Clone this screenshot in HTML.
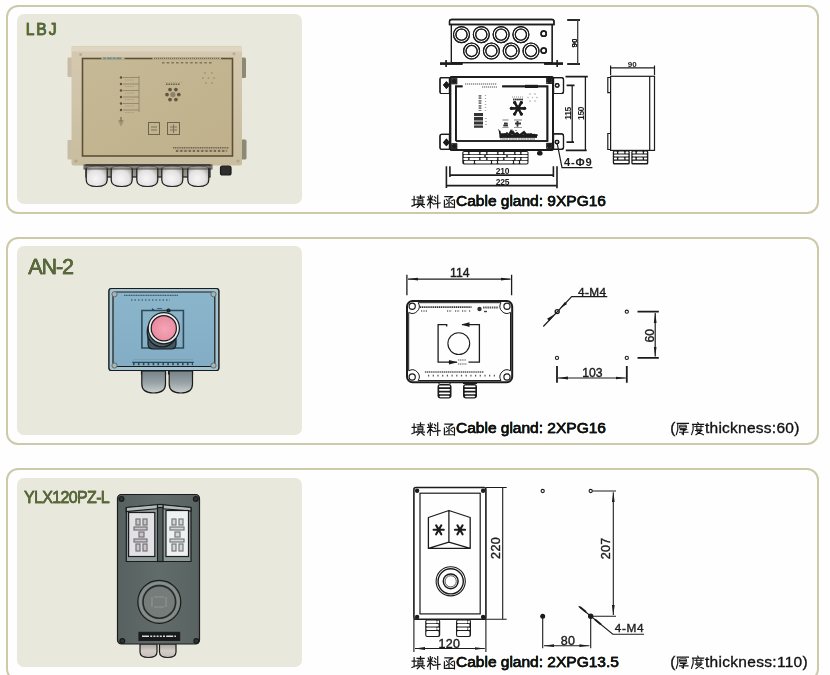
<!DOCTYPE html>
<html><head><meta charset="utf-8">
<style>
*{margin:0;padding:0;box-sizing:border-box}
html,body{width:830px;height:675px;overflow:hidden;background:#fefefe;position:relative;font-family:"Liberation Sans",sans-serif}
.box{position:absolute;left:6px;width:813px;height:209px;border:2px solid #cdcaa9;border-radius:12px;background:#fefefe}
.panel{position:absolute;left:17px;width:285px;height:189px;background:#e8e8dd;border-radius:7px}
.title{position:absolute;color:#58683a;font-size:16px;white-space:nowrap;-webkit-text-stroke:0.45px #58683a}
.txt{position:absolute;color:#111;font-size:15.5px;white-space:nowrap;-webkit-text-stroke:0.35px #111}
svg{position:absolute;left:0;top:0}
</style></head><body><div id="wrap" style="position:absolute;left:0;top:0;width:830px;height:675px;overflow:hidden">
<div class="box" style="top:5px"></div>
<div class="box" style="top:237px;height:208px"></div>
<div class="box" style="top:468px;height:212.5px"></div>
<div class="panel" style="top:14px;height:190px"></div>
<div class="panel" style="top:246px;height:189px"></div>
<div class="panel" style="top:478px;height:189px"></div>
<svg width="830" height="675" viewBox="0 0 830 675" style="position:absolute;left:0;top:0">
<defs>
<filter id="soft" x="-5%" y="-5%" width="110%" height="110%"><feGaussianBlur stdDeviation="0.6"/></filter>
<linearGradient id="lbjBody" x1="0" y1="0" x2="0" y2="1"><stop offset="0" stop-color="#d5c9b1"/><stop offset="1" stop-color="#c9bd9f"/></linearGradient>
<linearGradient id="lbjPanel" x1="0" y1="0" x2="1" y2="1"><stop offset="0" stop-color="#c6b995"/><stop offset="1" stop-color="#c0b08c"/></linearGradient>
<radialGradient id="gland" cx="0.45" cy="0.62" r="0.62"><stop offset="0" stop-color="#f7f6f6"/><stop offset="0.65" stop-color="#e4e1e2"/><stop offset="1" stop-color="#aeaaa3"/></radialGradient><linearGradient id="glandGap" x1="0" y1="0" x2="0" y2="1"><stop offset="0" stop-color="#77736b"/><stop offset="1" stop-color="#a19d95"/></linearGradient>
<linearGradient id="an2Body" x1="0" y1="0" x2="0" y2="1"><stop offset="0" stop-color="#8bb5cb"/><stop offset="1" stop-color="#82adc4"/></linearGradient>
<radialGradient id="pink" cx="0.55" cy="0.55" r="0.6"><stop offset="0" stop-color="#f4a5b8"/><stop offset="1" stop-color="#e8869c"/></radialGradient>
<linearGradient id="an2Gland" x1="0" y1="0" x2="0" y2="1"><stop offset="0" stop-color="#76838a"/><stop offset="0.5" stop-color="#95a0a3"/><stop offset="1" stop-color="#c9cfcd"/></linearGradient>
<linearGradient id="ylxBody" x1="0" y1="0" x2="1" y2="0"><stop offset="0" stop-color="#566160"/><stop offset="0.5" stop-color="#606b6a"/><stop offset="1" stop-color="#586362"/></linearGradient>
<radialGradient id="ylxBtn" cx="0.5" cy="0.5" r="0.5"><stop offset="0" stop-color="#7f8684"/><stop offset="0.75" stop-color="#6d7472"/><stop offset="0.88" stop-color="#8a918f"/><stop offset="1" stop-color="#6a7270"/></radialGradient>
<linearGradient id="ylxGland" x1="0" y1="0" x2="0" y2="1"><stop offset="0" stop-color="#a9a4a0"/><stop offset="0.5" stop-color="#d3ccc7"/><stop offset="1" stop-color="#c4bdb8"/></linearGradient>
</defs>
<g filter="url(#soft)">
<!-- ===== LBJ photo ===== -->
<rect x="67.5" y="57.5" width="5" height="19.5" rx="1" fill="#c8bca6"/>
<rect x="67.5" y="140" width="5" height="19.5" rx="1" fill="#c8bca6"/>
<rect x="241" y="57.5" width="5" height="20.5" rx="1.5" fill="#8c8a74"/>
<rect x="241" y="139.5" width="5.5" height="20" rx="1.5" fill="#8c8a74"/>
<rect x="71.5" y="46" width="170.5" height="119.5" rx="2" fill="url(#lbjBody)"/>
<rect x="71.5" y="46.5" width="170.5" height="5" fill="#e3dac8" opacity="0.7"/>
<rect x="82.5" y="58.5" width="150" height="97.5" fill="url(#lbjPanel)" stroke="#5c5036" stroke-width="1.6"/>
<path d="M101.5,58.5 H124.5 M152.5,58.5 H221" stroke="#c8bb98" stroke-width="2.2"/>
<path d="M103,58.3 H121.5" stroke="#6f8d8c" stroke-width="1.8" stroke-dasharray="3 0.8 5 0.8 3 0.8 6"/>
<path d="M154,58.3 H220" stroke="#7a6f58" stroke-width="1.3" stroke-dasharray="1.3 0.7"/>
<path d="M162,62.8 H212" stroke="#7f745c" stroke-width="1.5" stroke-dasharray="2.5 2.2"/>
<circle cx="80.6" cy="54.5" r="1.5" fill="#b6ab95"/><circle cx="234" cy="53.7" r="1.5" fill="#b6ab95"/>
<circle cx="76" cy="161" r="1.6" fill="#b0a590"/><circle cx="238" cy="161" r="1.6" fill="#b0a590"/>
<!-- LED col -->
<g fill="#5a4f3a"><circle cx="121" cy="77.5" r="1.2"/><circle cx="121" cy="84" r="1.2"/><circle cx="121" cy="90.5" r="1.2"/><circle cx="121" cy="97" r="1.2"/><circle cx="121" cy="103.5" r="1.2"/><circle cx="121" cy="110" r="1.2"/></g>
<path d="M123,77.5 H139 M123,84 H139 M123,90.5 H139 M123,97 H139 M123,103.5 H139 M123,110 H139 M139,76 V112" stroke="#8a7f66" stroke-width="0.8"/>
<path d="M125,80 H134 M125,86.5 H134 M125,93 H134 M125,99.5 H134 M125,106 H134 M125,112.5 H134" stroke="#a89c7f" stroke-width="1.2" stroke-dasharray="1 0.6"/>
<path d="M121,117 V121 M118.5,121 H123.5 M119.3,123 H122.7 M120.3,125 H121.7" stroke="#786d55" stroke-width="1.2"/>
<!-- asterisk -->
<g fill="#5e5443"><circle cx="167" cy="94.6" r="1.85"/><circle cx="178.8" cy="94.6" r="1.85"/><circle cx="170" cy="89.6" r="1.85"/><circle cx="175.9" cy="89.6" r="1.85"/><circle cx="170" cy="99.6" r="1.85"/><circle cx="175.9" cy="99.6" r="1.85"/></g>
<circle cx="172.9" cy="94.6" r="2.6" fill="#8d836b"/>
<path d="M166,84.3 H180" stroke="#6c624d" stroke-width="1.5" stroke-dasharray="1.6 0.8"/>
<path d="M165,82.5 H182" stroke="#a59a7e" stroke-width="0.8" stroke-dasharray="1 1"/>
<g fill="#a3987d"><circle cx="205" cy="73" r="1"/><circle cx="212" cy="73" r="1"/><circle cx="203" cy="78" r="1"/><circle cx="208.5" cy="78" r="1"/><circle cx="214" cy="78" r="1"/><circle cx="206" cy="83" r="1"/><circle cx="212" cy="83" r="1"/></g>
<!-- squares -->
<rect x="148.5" y="122.5" width="11" height="12" fill="none" stroke="#6d634d" stroke-width="1"/>
<path d="M151,127 H157 M151,130 H157" stroke="#7d735c" stroke-width="1.2"/>
<rect x="167.5" y="122.5" width="12" height="12" fill="none" stroke="#6d634d" stroke-width="1"/>
<path d="M170,127 H177 M170,130 H177 M173.5,124.5 V133" stroke="#7d735c" stroke-width="1.1"/>
<path d="M173,147.8 H229" stroke="#6f644d" stroke-width="1.4" stroke-dasharray="1.2 0.6"/>
<path d="M175,150.5 H228" stroke="#b4a888" stroke-width="3"/>
<path d="M176,151 H227" stroke="#5f5541" stroke-width="1.6" stroke-dasharray="2.2 2"/>
<!-- glands -->
<rect x="86" y="165" width="124" height="12" fill="url(#glandGap)"/>
<path d="M86.2,169 Q86.2,166 96.7,166 Q107.2,166 107.2,169 V180 Q107.2,186.5 96.7,186.5 Q86.2,186.5 86.2,180 Z" fill="url(#gland)"/><path d="M111.2,169 Q111.2,166 121.7,166 Q132.2,166 132.2,169 V180 Q132.2,186.5 121.7,186.5 Q111.2,186.5 111.2,180 Z" fill="url(#gland)"/><path d="M136.8,169 Q136.8,166 147.3,166 Q157.8,166 157.8,169 V180 Q157.8,186.5 147.3,186.5 Q136.8,186.5 136.8,180 Z" fill="url(#gland)"/><path d="M161.8,169 Q161.8,166 172.3,166 Q182.8,166 182.8,169 V180 Q182.8,186.5 172.3,186.5 Q161.8,186.5 161.8,180 Z" fill="url(#gland)"/><path d="M187.8,169 Q187.8,166 198.3,166 Q208.8,166 208.8,169 V180 Q208.8,186.5 198.3,186.5 Q187.8,186.5 187.8,180 Z" fill="url(#gland)"/>
<rect x="84" y="165" width="128" height="4" fill="#8b877f" opacity="0.55"/>
<rect x="220.5" y="166" width="10.5" height="9" rx="2" fill="#2f2d29"/>

<!-- ===== AN-2 photo ===== -->
<rect x="141.5" y="366" width="24" height="8" fill="#5f6b70"/>
<rect x="168.5" y="366" width="24" height="8" fill="#5f6b70"/>
<path d="M141.8,371 H165.5 V384 Q165.5,393 153.6,393 Q141.8,393 141.8,384 Z" fill="url(#an2Gland)"/>
<path d="M169.2,371 H192.5 V384 Q192.5,393 180.8,393 Q169.2,393 169.2,384 Z" fill="url(#an2Gland)"/>
<rect x="109" y="288.5" width="109.8" height="82" rx="2.5" fill="url(#an2Body)"/>
<rect x="109" y="288.5" width="109.8" height="82" rx="2.5" fill="#a3c3d1"/><rect x="113" y="292" width="101.8" height="74.5" rx="2" fill="url(#an2Body)"/>
<g fill="#a9b3b5" stroke="#5d6d72" stroke-width="1"><circle cx="114.5" cy="294.2" r="2.6"/><circle cx="213.5" cy="294.2" r="2.6"/><circle cx="114.5" cy="365.5" r="2.6"/><circle cx="213.5" cy="365.5" r="2.6"/></g>
<path d="M124,295.3 H178" stroke="#3d5d70" stroke-width="1.3" stroke-dasharray="1.2 0.5"/>
<path d="M131,300 H170" stroke="#4b6a7c" stroke-width="1.3" stroke-dasharray="1.5 2"/>
<path d="M141.9,310.5 V348 H183.4 V310.5 Z" fill="none" stroke="#2f4b5a" stroke-width="1.6"/>
<circle cx="168.5" cy="310.5" r="1.5" fill="#223a46"/><path d="M152,308.6 L154,310.5" stroke="#223a46" stroke-width="1.2"/><path d="M157,308.5 H162" stroke="#46657a" stroke-width="1"/>
<path d="M148,328 V344 Q148,349 153,349 H171 Q176,349 176,344 V328 Z" fill="#3f5663"/><circle cx="162" cy="332" r="14.8" fill="#4d6470"/>
<circle cx="163.8" cy="328.2" r="15.6" fill="#e9eef0"/>
<circle cx="163.8" cy="328.2" r="12.6" fill="url(#pink)"/>
<path d="M132.2,362.3 H193.8" stroke="#2e4a58" stroke-width="1.2"/>
<path d="M133,364 H193" stroke="#2e4a58" stroke-width="2.4" stroke-dasharray="1.6 3.3"/>
<path d="M133,359.5 H193" stroke="#7aa0b3" stroke-width="1"/>

<!-- ===== YLX photo ===== -->
<path d="M140,644 H157 V652 Q157,657.5 148.5,657.5 Q140,657.5 140,652 Z" fill="url(#ylxGland)"/>
<path d="M159.5,644 H176 V652 Q176,657.5 167.7,657.5 Q159.5,657.5 159.5,652 Z" fill="url(#ylxGland)"/>
<rect x="117.5" y="494.5" width="82" height="149.5" rx="4" fill="url(#ylxBody)"/>
<g fill="#2d3432"><circle cx="121.5" cy="498.9" r="2.4"/><circle cx="195.8" cy="498.9" r="2.4"/><circle cx="122.3" cy="641" r="2.4"/><circle cx="196.3" cy="641" r="2.4"/></g>
<path d="M126.3,507.5 L159.5,504.5 L191,507.5 V561.5 H126.3 Z" fill="#8e999a"/><path d="M126.3,507.5 L159.5,504.5 L191,507.5 V511 L159.5,508.5 L126.3,511.5 Z" fill="#b3bdbd"/>
<rect x="128.6" y="512.5" width="26.2" height="44" fill="#e2e1e6"/>
<rect x="166" y="510.5" width="22.5" height="46" fill="#edf1f1"/>
<rect x="157.5" y="506" width="5.5" height="55.5" fill="#515c5b"/><rect x="157.5" y="504.5" width="5.5" height="3" fill="#9aa5a5"/>
<g fill="#b9aeb4" opacity="0.55">
<rect x="136" y="519" width="4" height="6"/><rect x="143" y="519" width="4" height="6"/><rect x="134" y="527" width="13" height="3"/><rect x="139" y="532" width="5" height="5"/><rect x="134" y="539" width="13" height="3"/><rect x="136" y="544" width="4" height="7"/><rect x="143" y="544" width="4" height="7"/>
</g>
<g fill="#bfc2c2" opacity="0.55">
<rect x="172" y="519" width="4" height="6"/><rect x="179" y="519" width="4" height="6"/><rect x="170" y="527" width="14" height="3"/><rect x="175" y="532" width="5" height="5"/><rect x="170" y="539" width="14" height="3"/><rect x="172" y="544" width="4" height="7"/><rect x="179" y="544" width="4" height="7"/>
</g>
<circle cx="159.3" cy="601.9" r="21.5" fill="url(#ylxBtn)"/>
<circle cx="159.3" cy="601.9" r="16.3" fill="#757c7a" stroke="#262c2b" stroke-width="1.6"/>
<path d="M152,597 V607 M166,597 V607 M154,597 H164 M154,607 H164" stroke="#8e9593" stroke-width="1.2"/>
<rect x="139" y="632.4" width="40.6" height="8" fill="#161a19"/>
<path d="M142,636.3 H176" stroke="#d9dcda" stroke-width="1.6" stroke-dasharray="7 1.2 2 1.2 2 1.2 2 1.2 2 1.2 2 1.2"/>
</g>
</svg>
<div class="title" style="left:25.8px;top:20.6px;letter-spacing:1.9px;font-size:15.6px">LBJ</div>
<div class="title" style="left:28.3px;top:253.6px;font-size:21.6px;letter-spacing:-1.2px">AN-2</div>
<div class="title" style="left:24px;top:489px;letter-spacing:-0.65px">YLX120PZ-L</div>
<div class="txt" style="left:456px;top:192px">Cable gland: 9XPG16</div>
<div class="txt" style="left:456px;top:419.2px">Cable gland: 2XPG16</div>
<div class="txt" style="left:456px;top:652.6px">Cable gland: 2XPG13.5</div>
<svg width="830" height="675" viewBox="0 0 830 675" style="position:absolute;left:0;top:0">
<g fill="none" stroke="#1c1c1c" stroke-width="1.2" font-family="Liberation Sans">
<!-- ===== LBJ top view ===== -->
<path d="M449.5,24.5 V21.5 Q449.5,19.5 451.5,19.5 H552 Q554,19.5 554,21.5 V24.5 Z" stroke-width="1.3"/>
<path d="M451.4,24.5 V62.6 M552.2,24.5 V62.6"/>
<path d="M451.4,62.6 H552.2"/>
<path d="M440,63.6 H462.5 M544.2,63.6 H563" stroke-width="2.2"/>
<path d="M446.1,60 V67 M557.2,60 V67"/>
<g stroke-width="1.1">
<circle cx="461.5" cy="34.6" r="8"/><circle cx="461.5" cy="34.6" r="5.6"/>
<circle cx="481.3" cy="34.6" r="8"/><circle cx="481.3" cy="34.6" r="5.6"/>
<circle cx="501.1" cy="34.6" r="8"/><circle cx="501.1" cy="34.6" r="5.6"/>
<circle cx="520.9" cy="34.6" r="8"/><circle cx="520.9" cy="34.6" r="5.6"/>
<circle cx="471.6" cy="51" r="8"/><circle cx="471.6" cy="51" r="5.6"/>
<circle cx="491.4" cy="51" r="8"/><circle cx="491.4" cy="51" r="5.6"/>
<circle cx="511.2" cy="51" r="8"/><circle cx="511.2" cy="51" r="5.6"/>
<circle cx="531" cy="51" r="8"/><circle cx="531" cy="51" r="5.6"/>
</g>
<circle cx="543.7" cy="33.7" r="2.6" stroke-width="1.5"/>
<circle cx="543.7" cy="50.6" r="2.6" stroke-width="1.5"/>
<path d="M567.3,19.9 H580 M567.3,63.9 H580" stroke-width="1.5"/><path d="M577.6,19.9 V63.9" stroke="#444"/>
<text transform="translate(576.6,43) rotate(-90)" font-size="8" font-weight="bold" fill="#1c1c1c" stroke="none" text-anchor="middle">90</text>

<!-- ===== LBJ front view ===== -->
<path d="M441.5,77.6 H449.5 V93.5 H441.5 Q440,93.5 440,92 V79.1 Q440,77.6 441.5,77.6 Z"/>
<path d="M441.5,134.4 H449.5 V149.3 H441.5 Q440,149.3 440,147.8 V135.9 Q440,134.4 441.5,134.4 Z"/>
<path d="M553.5,77.6 H561.5 Q563.5,77.6 563.5,79.6 V91.5 Q563.5,93.5 561.5,93.5 H553.5 Z"/>
<path d="M553.5,133.9 H561.5 Q563.5,133.9 563.5,135.9 V147.3 Q563.5,149.3 561.5,149.3 H553.5 Z"/>
<path d="M446.4,82.1 l2.6,3 -2.6,3 -2.6,-3 Z M446.4,139.4 l2.6,3 -2.6,3 -2.6,-3 Z" fill="#1c1c1c"/>
<circle cx="557.2" cy="85.4" r="1.8"/><circle cx="557" cy="142.1" r="1.8"/>
<rect x="450.2" y="77.1" width="102.8" height="72.9" rx="2" stroke-width="2"/>
<path d="M455.9,141 V86.4 H462.5 M502.2,86.4 H547.4 V141 H455.9" stroke-width="1.7"/>
<path d="M525,86.4 H537.8" stroke-width="3"/>
<rect x="451.8" y="78.8" width="5" height="5" stroke-width="0.8"/><circle cx="454.2" cy="81.2" r="1.7" fill="#1c1c1c"/>
<rect x="546.8" y="78.4" width="5" height="5" stroke-width="0.8"/><circle cx="549.2" cy="80.8" r="1.7" fill="#1c1c1c"/>
<rect x="451.8" y="143.8" width="5" height="5" stroke-width="0.8"/><circle cx="454.3" cy="146.3" r="1.7" fill="#1c1c1c"/>
<rect x="546.8" y="143.3" width="5" height="5" stroke-width="0.8"/><circle cx="549.3" cy="145.8" r="1.7" fill="#1c1c1c"/>
<!-- tiny texts -->
<path d="M465,84 H497 M482,87 H497" stroke="#888" stroke-width="1" stroke-dasharray="1.2 0.8"/>
<path d="M480,95 V111" stroke="#777" stroke-width="2.5" stroke-dasharray="1.5 1"/>
<path d="M485.5,95 V111" stroke="#aaa" stroke-width="1.2" stroke-dasharray="1 2"/>
<rect x="474" y="113" width="9" height="14.5" fill="#333" stroke="none"/>
<path d="M473,116.5 H484 M473,121 H484 M473,125 H484" stroke="#fff" stroke-width="0.9"/>
<path d="M486,118 V127" stroke="#aaa" stroke-width="1.2" stroke-dasharray="1 2"/>
<!-- asterisk -->
<g stroke-width="2.2" stroke-linecap="round"><path d="M518.0,108.3 L524.60,108.30 M518.0,108.3 L521.30,114.02 M518.0,108.3 L514.70,114.02 M518.0,108.3 L511.40,108.30 M518.0,108.3 L514.70,102.58 M518.0,108.3 L521.30,102.58"/></g>
<g fill="#1c1c1c" stroke="none"><circle cx="524.60" cy="108.30" r="1.5"/><circle cx="521.30" cy="114.02" r="1.5"/><circle cx="514.70" cy="114.02" r="1.5"/><circle cx="511.40" cy="108.30" r="1.5"/><circle cx="514.70" cy="102.58" r="1.5"/><circle cx="521.30" cy="102.58" r="1.5"/></g>
<path d="M513,99.5 H523" stroke="#333" stroke-width="1.6" stroke-dasharray="1.4 0.7"/><path d="M512,97 H524" stroke="#aaa" stroke-width="0.9" stroke-dasharray="1 1"/>
<g fill="#bbb" stroke="none"><circle cx="530" cy="94" r="0.7"/><circle cx="535" cy="94" r="0.7"/><circle cx="528" cy="97.5" r="0.7"/><circle cx="532.5" cy="97.5" r="0.7"/><circle cx="537" cy="97.5" r="0.7"/><circle cx="530" cy="101" r="0.7"/><circle cx="535" cy="101" r="0.7"/></g>
<path d="M502.5,120 H508.5 M502.5,127.5 H508.5 M514,120 H522 M514,127.5 H522" stroke="#999" stroke-width="0.8"/>
<path d="M504,123.5 H507.5 M503.5,125.5 H508 M515,123.5 H521 M517.5,121 V126.5" stroke="#333" stroke-width="1.5"/>
<!-- squiggle -->
<path d="M499.5,131 L501,138 M500,135 L503,134 L505,135.5 L507,133 L509,135 L511,134 L513,131.5 L515,134.5 L517,133.5 L519,135 L521,134 L523,132.5 L525,135 L528,134 L531,135 L534,134.5 L537,136" stroke-width="1.6"/>
<rect x="500" y="134.5" width="37" height="3" fill="#1c1c1c" stroke="none"/>
<path d="M502,139 H535" stroke="#777" stroke-width="1" stroke-dasharray="1.5 0.8"/>
<path d="M500,132 L498.5,129.5 M512,131.5 V129.5 M516,131 V130" stroke-width="1"/>
<!-- glands -->
<rect x="86" y="165" width="124" height="12" fill="url(#glandGap)"/>
<path d="M86.2,169 Q86.2,166 96.7,166 Q107.2,166 107.2,169 V180 Q107.2,186.5 96.7,186.5 Q86.2,186.5 86.2,180 Z" fill="url(#gland)"/><path d="M111.2,169 Q111.2,166 121.7,166 Q132.2,166 132.2,169 V180 Q132.2,186.5 121.7,186.5 Q111.2,186.5 111.2,180 Z" fill="url(#gland)"/><path d="M136.8,169 Q136.8,166 147.3,166 Q157.8,166 157.8,169 V180 Q157.8,186.5 147.3,186.5 Q136.8,186.5 136.8,180 Z" fill="url(#gland)"/><path d="M161.8,169 Q161.8,166 172.3,166 Q182.8,166 182.8,169 V180 Q182.8,186.5 172.3,186.5 Q161.8,186.5 161.8,180 Z" fill="url(#gland)"/><path d="M187.8,169 Q187.8,166 198.3,166 Q208.8,166 208.8,169 V180 Q208.8,186.5 198.3,186.5 Q187.8,186.5 187.8,180 Z" fill="url(#gland)"/>
<rect x="84" y="165" width="128" height="4" fill="#8b877f" opacity="0.55"/>
<rect x="220.5" y="166" width="10.5" height="9" rx="2" fill="#2f2d29"/>

<!-- ===== AN-2 photo ===== -->
<rect x="141.5" y="366" width="24" height="8" fill="#5f6b70"/>
<rect x="168.5" y="366" width="24" height="8" fill="#5f6b70"/>
<path d="M141.8,371 H165.5 V384 Q165.5,393 153.6,393 Q141.8,393 141.8,384 Z" fill="url(#an2Gland)"/>
<path d="M169.2,371 H192.5 V384 Q192.5,393 180.8,393 Q169.2,393 169.2,384 Z" fill="url(#an2Gland)"/>
<rect x="109" y="288.5" width="109.8" height="82" rx="2.5" fill="url(#an2Body)"/>
<rect x="109" y="288.5" width="109.8" height="82" rx="2.5" fill="#a3c3d1"/><rect x="113" y="292" width="101.8" height="74.5" rx="2" fill="url(#an2Body)"/>
<g fill="#a9b3b5" stroke="#5d6d72" stroke-width="1"><circle cx="114.5" cy="294.2" r="2.6"/><circle cx="213.5" cy="294.2" r="2.6"/><circle cx="114.5" cy="365.5" r="2.6"/><circle cx="213.5" cy="365.5" r="2.6"/></g>
<path d="M124,295.3 H178" stroke="#3d5d70" stroke-width="1.3" stroke-dasharray="1.2 0.5"/>
<path d="M131,300 H170" stroke="#4b6a7c" stroke-width="1.3" stroke-dasharray="1.5 2"/>
<path d="M141.9,310.5 V348 H183.4 V310.5 Z" fill="none" stroke="#2f4b5a" stroke-width="1.6"/>
<circle cx="168.5" cy="310.5" r="1.5" fill="#223a46"/><path d="M152,308.6 L154,310.5" stroke="#223a46" stroke-width="1.2"/><path d="M157,308.5 H162" stroke="#46657a" stroke-width="1"/>
<path d="M148,328 V344 Q148,349 153,349 H171 Q176,349 176,344 V328 Z" fill="#3f5663"/><circle cx="162" cy="332" r="14.8" fill="#4d6470"/>
<circle cx="163.8" cy="328.2" r="15.6" fill="#e9eef0"/>
<circle cx="163.8" cy="328.2" r="12.6" fill="url(#pink)"/>
<path d="M132.2,362.3 H193.8" stroke="#2e4a58" stroke-width="1.2"/>
<path d="M133,364 H193" stroke="#2e4a58" stroke-width="2.4" stroke-dasharray="1.6 3.3"/>
<path d="M133,359.5 H193" stroke="#7aa0b3" stroke-width="1"/>

<!-- ===== YLX photo ===== -->
<path d="M140,644 H157 V652 Q157,657.5 148.5,657.5 Q140,657.5 140,652 Z" fill="url(#ylxGland)"/>
<path d="M159.5,644 H176 V652 Q176,657.5 167.7,657.5 Q159.5,657.5 159.5,652 Z" fill="url(#ylxGland)"/>
<rect x="117.5" y="494.5" width="82" height="149.5" rx="4" fill="url(#ylxBody)"/>
<g fill="#2d3432"><circle cx="121.5" cy="498.9" r="2.4"/><circle cx="195.8" cy="498.9" r="2.4"/><circle cx="122.3" cy="641" r="2.4"/><circle cx="196.3" cy="641" r="2.4"/></g>
<path d="M126.3,507.5 L159.5,504.5 L191,507.5 V561.5 H126.3 Z" fill="#8e999a"/><path d="M126.3,507.5 L159.5,504.5 L191,507.5 V511 L159.5,508.5 L126.3,511.5 Z" fill="#b3bdbd"/>
<rect x="128.6" y="512.5" width="26.2" height="44" fill="#e2e1e6"/>
<rect x="166" y="510.5" width="22.5" height="46" fill="#edf1f1"/>
<rect x="157.5" y="506" width="5.5" height="55.5" fill="#515c5b"/><rect x="157.5" y="504.5" width="5.5" height="3" fill="#9aa5a5"/>
<g fill="#b9aeb4" opacity="0.55">
<rect x="136" y="519" width="4" height="6"/><rect x="143" y="519" width="4" height="6"/><rect x="134" y="527" width="13" height="3"/><rect x="139" y="532" width="5" height="5"/><rect x="134" y="539" width="13" height="3"/><rect x="136" y="544" width="4" height="7"/><rect x="143" y="544" width="4" height="7"/>
</g>
<g fill="#bfc2c2" opacity="0.55">
<rect x="172" y="519" width="4" height="6"/><rect x="179" y="519" width="4" height="6"/><rect x="170" y="527" width="14" height="3"/><rect x="175" y="532" width="5" height="5"/><rect x="170" y="539" width="14" height="3"/><rect x="172" y="544" width="4" height="7"/><rect x="179" y="544" width="4" height="7"/>
</g>
<circle cx="159.3" cy="601.9" r="21.5" fill="url(#ylxBtn)"/>
<circle cx="159.3" cy="601.9" r="16.3" fill="#757c7a" stroke="#262c2b" stroke-width="1.6"/>
<path d="M152,597 V607 M166,597 V607 M154,597 H164 M154,607 H164" stroke="#8e9593" stroke-width="1.2"/>
<rect x="139" y="632.4" width="40.6" height="8" fill="#161a19"/>
<path d="M142,636.3 H176" stroke="#d9dcda" stroke-width="1.6" stroke-dasharray="7 1.2 2 1.2 2 1.2 2 1.2 2 1.2 2 1.2"/>
</g>
</svg>
<div class="title" style="left:25.8px;top:20.6px;letter-spacing:1.9px;font-size:15.6px">LBJ</div>
<div class="title" style="left:28.3px;top:253.6px;font-size:21.6px;letter-spacing:-1.2px">AN-2</div>
<div class="title" style="left:24px;top:489px;letter-spacing:-0.65px">YLX120PZ-L</div>
<div class="txt" style="left:456px;top:192px">Cable gland: 9XPG16</div>
<div class="txt" style="left:456px;top:419.2px">Cable gland: 2XPG16</div>
<div class="txt" style="left:456px;top:652.6px">Cable gland: 2XPG13.5</div>
<svg width="830" height="675" viewBox="0 0 830 675" style="position:absolute;left:0;top:0">
<g fill="none" stroke="#1c1c1c" stroke-width="1.2" font-family="Liberation Sans">
<!-- ===== LBJ top view ===== -->
<path d="M449.5,24.5 V21.5 Q449.5,19.5 451.5,19.5 H552 Q554,19.5 554,21.5 V24.5 Z" stroke-width="1.3"/>
<path d="M451.4,24.5 V62.6 M552.2,24.5 V62.6"/>
<path d="M451.4,62.6 H552.2"/>
<path d="M440,63.6 H462.5 M544.2,63.6 H563" stroke-width="2.2"/>
<path d="M446.1,60 V67 M557.2,60 V67"/>
<g stroke-width="1.1">
<circle cx="461.5" cy="34.6" r="8"/><circle cx="461.5" cy="34.6" r="5.6"/>
<circle cx="481.3" cy="34.6" r="8"/><circle cx="481.3" cy="34.6" r="5.6"/>
<circle cx="501.1" cy="34.6" r="8"/><circle cx="501.1" cy="34.6" r="5.6"/>
<circle cx="520.9" cy="34.6" r="8"/><circle cx="520.9" cy="34.6" r="5.6"/>
<circle cx="471.6" cy="51" r="8"/><circle cx="471.6" cy="51" r="5.6"/>
<circle cx="491.4" cy="51" r="8"/><circle cx="491.4" cy="51" r="5.6"/>
<circle cx="511.2" cy="51" r="8"/><circle cx="511.2" cy="51" r="5.6"/>
<circle cx="531" cy="51" r="8"/><circle cx="531" cy="51" r="5.6"/>
</g>
<circle cx="543.7" cy="33.7" r="2.6" stroke-width="1.5"/>
<circle cx="543.7" cy="50.6" r="2.6" stroke-width="1.5"/>
<path d="M567.3,19.9 H580 M567.3,63.9 H580" stroke-width="1.5"/><path d="M577.6,19.9 V63.9" stroke="#444"/>
<text transform="translate(576.6,43) rotate(-90)" font-size="8" font-weight="bold" fill="#1c1c1c" stroke="none" text-anchor="middle">90</text>

<!-- ===== LBJ front view ===== -->
<path d="M441.5,77.6 H449.5 V93.5 H441.5 Q440,93.5 440,92 V79.1 Q440,77.6 441.5,77.6 Z"/>
<path d="M441.5,134.4 H449.5 V149.3 H441.5 Q440,149.3 440,147.8 V135.9 Q440,134.4 441.5,134.4 Z"/>
<path d="M553.5,77.6 H561.5 Q563.5,77.6 563.5,79.6 V91.5 Q563.5,93.5 561.5,93.5 H553.5 Z"/>
<path d="M553.5,133.9 H561.5 Q563.5,133.9 563.5,135.9 V147.3 Q563.5,149.3 561.5,149.3 H553.5 Z"/>
<path d="M446.4,82.1 l2.6,3 -2.6,3 -2.6,-3 Z M446.4,139.4 l2.6,3 -2.6,3 -2.6,-3 Z" fill="#1c1c1c"/>
<circle cx="557.2" cy="85.4" r="1.8"/><circle cx="557" cy="142.1" r="1.8"/>
<rect x="450.2" y="77.1" width="102.8" height="72.9" rx="2" stroke-width="2"/>
<path d="M455.9,141 V86.4 H462.5 M502.2,86.4 H547.4 V141 H455.9" stroke-width="1.7"/>
<path d="M525,86.4 H537.8" stroke-width="3"/>
<rect x="451.8" y="78.8" width="5" height="5" stroke-width="0.8"/><circle cx="454.2" cy="81.2" r="1.7" fill="#1c1c1c"/>
<rect x="546.8" y="78.4" width="5" height="5" stroke-width="0.8"/><circle cx="549.2" cy="80.8" r="1.7" fill="#1c1c1c"/>
<rect x="451.8" y="143.8" width="5" height="5" stroke-width="0.8"/><circle cx="454.3" cy="146.3" r="1.7" fill="#1c1c1c"/>
<rect x="546.8" y="143.3" width="5" height="5" stroke-width="0.8"/><circle cx="549.3" cy="145.8" r="1.7" fill="#1c1c1c"/>
<!-- tiny texts -->
<path d="M465,84 H497 M482,87 H497" stroke="#888" stroke-width="1" stroke-dasharray="1.2 0.8"/>
<path d="M480,95 V111" stroke="#777" stroke-width="2.5" stroke-dasharray="1.5 1"/>
<path d="M485.5,95 V111" stroke="#aaa" stroke-width="1.2" stroke-dasharray="1 2"/>
<rect x="474" y="113" width="9" height="14.5" fill="#333" stroke="none"/>
<path d="M473,116.5 H484 M473,121 H484 M473,125 H484" stroke="#fff" stroke-width="0.9"/>
<path d="M486,118 V127" stroke="#aaa" stroke-width="1.2" stroke-dasharray="1 2"/>
<!-- asterisk -->
<g stroke-width="2.2" stroke-linecap="round"><path d="M518.0,108.3 L524.60,108.30 M518.0,108.3 L521.30,114.02 M518.0,108.3 L514.70,114.02 M518.0,108.3 L511.40,108.30 M518.0,108.3 L514.70,102.58 M518.0,108.3 L521.30,102.58"/></g>
<g fill="#1c1c1c" stroke="none"><circle cx="524.60" cy="108.30" r="1.5"/><circle cx="521.30" cy="114.02" r="1.5"/><circle cx="514.70" cy="114.02" r="1.5"/><circle cx="511.40" cy="108.30" r="1.5"/><circle cx="514.70" cy="102.58" r="1.5"/><circle cx="521.30" cy="102.58" r="1.5"/></g>
<path d="M513,99.5 H523" stroke="#333" stroke-width="1.6" stroke-dasharray="1.4 0.7"/><path d="M512,97 H524" stroke="#aaa" stroke-width="0.9" stroke-dasharray="1 1"/>
<g fill="#bbb" stroke="none"><circle cx="530" cy="94" r="0.7"/><circle cx="535" cy="94" r="0.7"/><circle cx="528" cy="97.5" r="0.7"/><circle cx="532.5" cy="97.5" r="0.7"/><circle cx="537" cy="97.5" r="0.7"/><circle cx="530" cy="101" r="0.7"/><circle cx="535" cy="101" r="0.7"/></g>
<path d="M502.5,120 H508.5 M502.5,127.5 H508.5 M514,120 H522 M514,127.5 H522" stroke="#999" stroke-width="0.8"/>
<path d="M504,123.5 H507.5 M503.5,125.5 H508 M515,123.5 H521 M517.5,121 V126.5" stroke="#333" stroke-width="1.5"/>
<!-- squiggle -->
<path d="M500,133 L502,136 L505,134 L508,136.5 L511,131 L514,135 L517,133 L520,136 L524,132 L527,135.5 L531,134 L534,136 L537.5,135" stroke-width="2"/>
<path d="M499.5,136.5 H537" stroke-width="2.5"/>
<path d="M500,139 H535" stroke="#999" stroke-width="1" stroke-dasharray="2 1"/>
<!-- glands -->
<rect x="462.3" y="151" width="66.2" height="13.5" rx="1.8" fill="#1c1c1c" stroke="none"/>
<g fill="#fff" stroke="none"><rect x="463.3" y="151.9" width="5" height="2.4" rx="1"/><rect x="469.3" y="151.9" width="10" height="2.4" rx="1"/><rect x="480.3" y="151.9" width="6" height="2.4" rx="1"/><rect x="487.3" y="151.9" width="10" height="2.4" rx="1"/><rect x="498.3" y="151.9" width="5" height="2.4" rx="1"/><rect x="504.3" y="151.9" width="10" height="2.4" rx="1"/><rect x="515.3" y="151.9" width="5" height="2.4" rx="1"/><rect x="521.3" y="151.9" width="6.3" height="2.4" rx="1"/><rect x="463.5" y="154.9" width="21" height="2.1" rx="1"/><rect x="485.5" y="154.9" width="21" height="2.1" rx="1"/><rect x="507.5" y="154.9" width="20.3" height="2.1" rx="1"/><rect x="463.3" y="157.7" width="5" height="2.4" rx="1"/><rect x="469.3" y="157.7" width="10" height="2.4" rx="1"/><rect x="480.3" y="157.7" width="6" height="2.4" rx="1"/><rect x="487.3" y="157.7" width="10" height="2.4" rx="1"/><rect x="498.3" y="157.7" width="5" height="2.4" rx="1"/><rect x="504.3" y="157.7" width="10" height="2.4" rx="1"/><rect x="515.3" y="157.7" width="5" height="2.4" rx="1"/><rect x="521.3" y="157.7" width="6.3" height="2.4" rx="1"/><rect x="464" y="160.8" width="10" height="2.6" rx="1"/><rect x="475" y="160.8" width="16" height="2.6" rx="1"/><rect x="492" y="160.8" width="5" height="2.6" rx="1"/><rect x="498" y="160.8" width="15" height="2.6" rx="1"/><rect x="514" y="160.8" width="5" height="2.6" rx="1"/><rect x="520" y="160.8" width="7.5" height="2.6" rx="1"/></g>
<rect x="537" y="151" width="5.6" height="4.5" rx="2" fill="#1c1c1c" stroke="none"/>
<!-- dims front -->
<path d="M566.6,85.4 H574.5 M566.5,142.1 H574" stroke-width="1.7"/><path d="M572.2,85.4 V142.1" stroke-width="1.3"/>
<text transform="translate(571.2,113.4) rotate(-90)" font-size="8.5" font-weight="bold" letter-spacing="-0.4" fill="#1c1c1c" stroke="none" text-anchor="middle">115</text>
<path d="M565.5,76.6 H587.8 M565.8,150.4 H586.7" stroke-width="1.7"/><path d="M585.4,76.6 V150.4" stroke-width="1.3"/>
<text transform="translate(584.4,113.4) rotate(-90)" font-size="8.5" font-weight="bold" letter-spacing="-0.4" fill="#1c1c1c" stroke="none" text-anchor="middle">150</text>
<path d="M449.9,166.2 V177.1 M553.4,166.2 V177 M449.9,175.1 H553.4" stroke-width="1.6"/>
<text x="502.5" y="174.3" font-size="8.5" font-weight="bold" letter-spacing="-0.2" fill="#1c1c1c" stroke="none" text-anchor="middle">210</text>
<path d="M446.4,166.2 V188 M557,166.2 V188.3 M446.4,185.6 H557" stroke-width="1.6"/>
<text x="502.5" y="184.8" font-size="8.5" font-weight="bold" letter-spacing="-0.2" fill="#1c1c1c" stroke="none" text-anchor="middle">225</text>
<path d="M557,142.5 L562,167.6 H592.4"/>
<text x="564" y="165.6" font-size="11.2" font-weight="bold" fill="#1c1c1c" stroke="none" letter-spacing="0.8">4-&#934;9</text>

<!-- ===== LBJ side view ===== -->
<rect x="610.6" y="76.3" width="43.9" height="74.1"/>
<path d="M649.7,76.3 V150.4"/>
<path d="M610.6,77.5 H607.8 V92.6 H610.6 M610.6,133.5 H607.8 V149.5 H610.6"/>
<path d="M610.6,67.8 H654.5 M610.6,65.6 V75 M654.5,65.6 V75"/>
<text x="632.3" y="66.8" font-size="8" font-weight="bold" fill="#1c1c1c" stroke="none" text-anchor="middle">90</text>
<rect x="612.8" y="150.4" width="17" height="14.2" rx="1.5" fill="#1c1c1c" stroke="none"/>
<rect x="631.3" y="150.4" width="17" height="14.2" rx="1.5" fill="#1c1c1c" stroke="none"/>
<g fill="#fff" stroke="none">
<rect x="614" y="151.6" width="3" height="2" rx="0.7"/><rect x="618.3" y="151.6" width="6" height="2" rx="0.7"/><rect x="625.5" y="151.6" width="3" height="2" rx="0.7"/>
<rect x="632.5" y="151.6" width="3" height="2" rx="0.7"/><rect x="636.8" y="151.6" width="6" height="2" rx="0.7"/><rect x="644" y="151.6" width="3" height="2" rx="0.7"/>
<rect x="614" y="154.6" width="14.5" height="1.8" rx="0.7"/><rect x="632.5" y="154.6" width="14.5" height="1.8" rx="0.7"/>
<rect x="614" y="157.6" width="3" height="2" rx="0.7"/><rect x="618.3" y="157.6" width="6" height="2" rx="0.7"/><rect x="625.5" y="157.6" width="3" height="2" rx="0.7"/>
<rect x="632.5" y="157.6" width="3" height="2" rx="0.7"/><rect x="636.8" y="157.6" width="6" height="2" rx="0.7"/><rect x="644" y="157.6" width="3" height="2" rx="0.7"/>
<rect x="614" y="160.8" width="14.5" height="2.2" rx="0.7"/><rect x="632.5" y="160.8" width="14.5" height="2.2" rx="0.7"/>
</g>
</g>
</svg>
<svg width="830" height="675" viewBox="0 0 830 675" style="position:absolute;left:0;top:0">
<defs>
<marker id="ar" viewBox="0 0 10 4" refX="10" refY="2" markerWidth="10" markerHeight="4" markerUnits="userSpaceOnUse" orient="auto-start-reverse"><path d="M10,2 L0,0.6 L0,3.4 Z" fill="#1c1c1c"/></marker>
</defs>
<g fill="none" stroke="#1c1c1c" stroke-width="1.2" font-family="Liberation Sans">
<!-- ===== AN-2 front ===== -->
<path d="M406.9,274.7 V295.3 M511.6,274.7 V295.3" stroke-width="1.3"/>
<path d="M408,279.1 H510.5" marker-start="url(#ar)" marker-end="url(#ar)"/>
<text x="459.8" y="276.6" font-size="12.2" fill="#1c1c1c" stroke="#1c1c1c" stroke-width="0.4" text-anchor="middle">114</text>
<rect x="407" y="301" width="105.2" height="81.2" rx="5.5" stroke-width="2"/>
<path d="M418.2,302.7 H501 A7,7 0 0 0 510.5,312.4 V370.8 A7,7 0 0 0 501,380.5 H418.2 A7,7 0 0 0 408.7,370.8 V312.4 A7,7 0 0 0 418.2,302.7 Z" stroke-width="1"/>
<circle cx="412.2" cy="306.2" r="3.1" stroke-width="1.2"/><circle cx="507" cy="306.2" r="3.1" stroke-width="1.2"/>
<circle cx="412.2" cy="377" r="3.1" stroke-width="1.2"/><circle cx="507" cy="377" r="3.1" stroke-width="1.2"/>
<path d="M419.8,307.1 H471.6" stroke="#333" stroke-width="1.6" stroke-dasharray="1.3 0.6"/>
<path d="M421,311 H428 M447,311 H452 M455,311 H460 M462,311 H467 M469,311 H471" stroke="#666" stroke-width="1.4" stroke-dasharray="1.2 1.2"/>
<circle cx="479.5" cy="309" r="2.2" fill="#333" stroke="none"/>
<path d="M483,307.5 H498.5" stroke="#555" stroke-width="2" stroke-dasharray="1.5 0.7"/>
<path d="M484,311.5 H487" stroke="#444" stroke-width="1.4"/>
<path d="M446.7,326.6 V324.6 H438.1 V362.2 H448.5" stroke-width="1.3"/>
<path d="M448,362.2 H457" stroke-width="1.3"/><path d="M457.5,362.2 L449,359.9 L449,364.5 Z" fill="#1c1c1c" stroke="none"/>
<path d="M468.5,362.2 H479.4 V324.6 H462" stroke-width="1.3"/><path d="M461.3,324.6 L469.5,322.3 L469.5,326.9 Z" fill="#1c1c1c" stroke="none"/>
<circle cx="458.8" cy="343.6" r="10.9" stroke-width="1.1"/>
<path d="M458,360 H466 M458,364 H467" stroke="#555" stroke-width="1.1" stroke-dasharray="1.2 0.6"/>
<path d="M424.9,372 H484" stroke="#555" stroke-width="1.4" stroke-dasharray="1.3 0.6"/>
<path d="M428,375.6 H497" stroke="#555" stroke-width="1.6" stroke-dasharray="1.2 3.5"/>
<!-- glands AN2 -->
<g>
<path d="M439,382.2 V384 M450,382.2 V384" stroke-width="1"/>
<rect x="437.5" y="384" width="14" height="14.5" rx="3" fill="#1c1c1c" stroke="none"/>
<rect x="463" y="382.2" width="14" height="1.8" fill="#1c1c1c" stroke="none"/>
<rect x="463" y="384" width="14" height="14.5" rx="3" fill="#1c1c1c" stroke="none"/>
<g fill="#fff" stroke="none">
<rect x="439" y="385.5" width="11" height="1.8" rx="0.8"/><rect x="439" y="389" width="11" height="1.8" rx="0.8"/><rect x="439" y="392.5" width="11" height="1.8" rx="0.8"/><rect x="439.5" y="395.8" width="10" height="1.5" rx="0.7"/>
<rect x="464.5" y="385.5" width="11" height="1.8" rx="0.8"/><rect x="464.5" y="389" width="11" height="1.8" rx="0.8"/><rect x="464.5" y="392.5" width="11" height="1.8" rx="0.8"/><rect x="465" y="395.8" width="10" height="1.5" rx="0.7"/>
</g>
</g>
<!-- ===== AN-2 holes ===== -->
<g stroke-width="1.1">
<circle cx="557.2" cy="311.6" r="2" stroke-width="1.4" fill="#fff"/><circle cx="626.8" cy="311.7" r="1.6"/>
<circle cx="557" cy="357.9" r="1.6"/><circle cx="626.8" cy="357.9" r="1.6"/>
</g>
<path d="M543.3,326.5 L571.7,296.6 H607.3" stroke-width="1.2"/>
<path d="M554.6,314.2 L549.36,320.90 L547.04,318.70 Z M559.9,308.6 L567.16,304.10 L564.84,301.90 Z" fill="#1c1c1c" stroke="none"/>
<text x="578" y="295.6" font-size="11.8" letter-spacing="0.4" fill="#1c1c1c" stroke="#1c1c1c" stroke-width="0.4">4-M4</text>
<path d="M637.5,311.7 H658.8 M637.5,357.9 H658.8" stroke-width="1.8"/>
<path d="M655.2,313 V356.5" marker-start="url(#ar)" marker-end="url(#ar)"/>
<text transform="translate(653.5,335.8) rotate(-90)" font-size="12.2" fill="#1c1c1c" stroke="#1c1c1c" stroke-width="0.4" text-anchor="middle">60</text>
<path d="M557,366 V382.8 M626.8,366 V382.8" stroke-width="1.8"/>
<path d="M558,378 H625.8" marker-start="url(#ar)" marker-end="url(#ar)"/>
<text x="592.4" y="376.7" font-size="12.2" fill="#1c1c1c" stroke="#1c1c1c" stroke-width="0.4" text-anchor="middle">103</text>

<!-- ===== YLX front ===== -->
<rect x="413.9" y="487.5" width="72" height="131.7" rx="2" stroke-width="1.6"/>
<rect x="420" y="493.2" width="60.2" height="120.7" stroke-width="1.2"/>
<g fill="#1c1c1c" stroke="none"><circle cx="417.1" cy="490.7" r="2.2"/><circle cx="483.1" cy="490.7" r="2.2"/><circle cx="417.1" cy="616.9" r="2.2"/><circle cx="483.1" cy="616.9" r="2.2"/></g>
<path d="M428.4,517.5 L448.9,510.5 L470.2,517.5 V548.4 H428.4 Z M448.9,510.5 V542.2 L428.4,548.4 M448.9,542.2 L470.2,548.4" stroke-width="1.3" stroke-linejoin="round"/>
<g stroke-width="2.1" stroke-linecap="round">
<path d="M433.6,529.8 H443.8 M436.1,525.3 L441.3,534.3 M441.3,525.3 L436.1,534.3"/>
<path d="M454.9,529.8 H465.1 M457.4,525.3 L462.6,534.3 M462.6,525.3 L457.4,534.3"/>
</g>
<circle cx="450.7" cy="581.3" r="14.6" stroke-width="1.1"/>
<circle cx="450.7" cy="581.3" r="12.6" stroke-width="1.4"/>
<circle cx="450.7" cy="581.3" r="7.4" stroke-width="1.5"/>
<circle cx="450.7" cy="581.3" r="5.6" stroke-width="0.7"/>
<!-- glands YLX -->
<rect x="425.2" y="619.5" width="15" height="17.5" rx="2" fill="#1c1c1c" stroke="none"/><g fill="#fff" stroke="none"><rect x="426.3" y="620.6" width="10.5" height="2.6" rx="1"/><rect x="437.2" y="620.6" width="1.9" height="2.6" rx="0.8"/><rect x="426.3" y="624.1" width="12.4" height="2.4" rx="1"/><rect x="426.3" y="627.4" width="10.5" height="2.6" rx="1"/><rect x="437.2" y="627.4" width="1.9" height="2.6" rx="0.8"/><rect x="426.3" y="630.9" width="12.4" height="5" rx="1.2"/></g>
<rect x="456" y="619.5" width="15" height="17.5" rx="2" fill="#1c1c1c" stroke="none"/><g fill="#fff" stroke="none"><rect x="457.1" y="620.6" width="10.5" height="2.6" rx="1"/><rect x="468" y="620.6" width="1.9" height="2.6" rx="0.8"/><rect x="457.1" y="624.1" width="12.4" height="2.4" rx="1"/><rect x="457.1" y="627.4" width="10.5" height="2.6" rx="1"/><rect x="468" y="627.4" width="1.9" height="2.6" rx="0.8"/><rect x="457.1" y="630.9" width="12.4" height="5" rx="1.2"/></g>
<path d="M485.9,487.5 H506.7 M485.9,619.2 H506.7 M502.7,487.5 V619.2" stroke-width="1.1"/>
<text transform="translate(500,548) rotate(-90)" font-size="12.5" letter-spacing="0.3" fill="#1c1c1c" stroke="#1c1c1c" stroke-width="0.4" text-anchor="middle">220</text>
<path d="M413.9,619 V652 M485.9,619 V652" stroke-width="1.1"/><path d="M415,648.5 H484.8" stroke-width="1.1" marker-start="url(#ar)" marker-end="url(#ar)"/>
<text x="449.5" y="648" font-size="12.5" letter-spacing="0.3" fill="#1c1c1c" stroke="#1c1c1c" stroke-width="0.4" text-anchor="middle">120</text>
<!-- ===== YLX holes ===== -->
<circle cx="542.7" cy="491" r="1.6" stroke-width="1.1"/><circle cx="590.7" cy="491" r="1.6" stroke-width="1.1"/>
<circle cx="542.7" cy="616.3" r="1.9" fill="#1c1c1c"/><circle cx="590.7" cy="616.3" r="2.1" fill="#1c1c1c"/>
<path d="M592.3,491 H616 M592.3,616.3 H616" stroke-width="1.1"/>
<path d="M613.3,492.3 V615" stroke-width="1.1" marker-start="url(#ar)" marker-end="url(#ar)"/>
<text transform="translate(609.5,548.3) rotate(-90)" font-size="12.5" letter-spacing="0.3" fill="#1c1c1c" stroke="#1c1c1c" stroke-width="0.4" text-anchor="middle">207</text>
<path d="M542.7,616.3 V648.3 M590.7,616.3 V648.3" stroke-width="1.1"/>
<path d="M544,645.7 H589.4" stroke-width="1.1" marker-start="url(#ar)" marker-end="url(#ar)"/>
<text x="568" y="644.9" font-size="12.5" letter-spacing="0.3" fill="#1c1c1c" stroke="#1c1c1c" stroke-width="0.4" text-anchor="middle">80</text>
<path d="M578.7,606.3 L612.8,634.3 H644" stroke-width="1.1"/>
<path d="M580,607 L586,612 M595,619.5 L601,624.5" stroke-width="1.8"/>
<text x="614.7" y="632.3" font-size="11.8" letter-spacing="0.7" fill="#1c1c1c" stroke="#1c1c1c" stroke-width="0.4">4-M4</text>
</g>
</svg>
<svg width="830" height="675" viewBox="0 0 830 675" style="position:absolute;left:0;top:0">
<defs>
<g id="c_tian" fill="none" stroke="#151515" stroke-width="1.45" stroke-linecap="square">
<path d="M0.8,5.8 H5.6 M3.2,1.5 V12.6 M0.5,13.6 L6,11.2"/>
<path d="M6.8,2.6 H15.4 M11,0.3 V4.3"/>
<path d="M8.4,4.6 H13.8 V10.6 H8.4 Z M8.4,6.6 H13.8 M8.4,8.6 H13.8" stroke-width="1.2"/>
<path d="M6.2,11.6 H15.8"/>
<path d="M9.8,12.4 L7,15.2 M12.4,12.6 L15.4,15.2"/>
</g>
<g id="c_liao" fill="none" stroke="#151515" stroke-width="1.45" stroke-linecap="square">
<path d="M1.2,2 L2.2,4.4 M6.2,1.6 L5.2,4.4 M0.4,6 H7 M3.8,0.4 V15.6 M3.4,7.6 L0.4,12.2 M4.4,8 L6.8,10.4"/>
<path d="M9,2.2 L10.6,3.8 M8.8,6 L10.4,7.6 M7.8,11 L15.8,9.8 M12.8,0.4 V15.6"/>
</g>
<g id="c_han" fill="none" stroke="#151515" stroke-width="1.45" stroke-linecap="square">
<path d="M2.1,1.6 H12.5 L7.4,4.4 M7.3,4.6 V13.4"/>
<path d="M1.5,6.4 V14.8 H14.1 M14.1,6.4 V15.4"/>
<path d="M3.8,5.2 L5.6,7 M3.4,11.4 L6.8,9.2 M13.4,5.5 L10.1,7 M9,8.9 L12.3,11.4" stroke-width="1.3"/>
</g>
<g id="c_hou" fill="none" stroke="#151515" stroke-width="1.45" stroke-linecap="square">
<path d="M1.6,1.4 H15.6 M2.2,1.4 V9.4 L0.4,15.4"/>
<path d="M5.2,3.6 H12.8 V7.6 H5.2 Z M5.2,5.6 H12.8" stroke-width="1.2"/>
<path d="M5.4,9.2 H12.4 L9.4,11 M9.2,10.8 V15.2 L7.6,14.4 M4.4,12.4 H15"/>
</g>
<g id="c_du" fill="none" stroke="#151515" stroke-width="1.45" stroke-linecap="square">
<path d="M8.2,0.2 L8.8,1.6 M1.6,2.6 H15.6 M2.4,2.6 V9.4 L0.4,15.4"/>
<path d="M4.4,5.4 H15 M7,3.8 V8.6 M12.2,3.8 V8.6 M7,8.6 H12.2" stroke-width="1.25"/>
<path d="M5.4,10.2 H13 L6,15.6 M7.6,11.8 L15.2,15.6"/>
</g>
</defs>
<use href="#c_tian" transform="translate(411.5,195) scale(0.82)"/>
<use href="#c_liao" transform="translate(427.2,195) scale(0.82)"/>
<use href="#c_han" transform="translate(443.2,195.3) scale(0.8)"/>
<use href="#c_tian" transform="translate(411.5,422.6) scale(0.82)"/>
<use href="#c_liao" transform="translate(427.2,422.6) scale(0.82)"/>
<use href="#c_han" transform="translate(443.2,422.9) scale(0.8)"/>
<use href="#c_tian" transform="translate(411.5,656.3) scale(0.82)"/>
<use href="#c_liao" transform="translate(427.2,656.3) scale(0.82)"/>
<use href="#c_han" transform="translate(443.2,656.6) scale(0.8)"/>
<use href="#c_hou" transform="translate(676,422.3) scale(0.8)"/>
<use href="#c_du" transform="translate(691.2,422.3) scale(0.8)"/>
<use href="#c_hou" transform="translate(676,656) scale(0.8)"/>
<use href="#c_du" transform="translate(691.2,656) scale(0.8)"/>
</svg>
<div class="txt" style="left:670.3px;top:419.2px">(</div>
<div class="txt" style="left:705px;top:419.2px;letter-spacing:0.25px">thickness:60)</div>
<div class="txt" style="left:670.3px;top:652.6px">(</div>
<div class="txt" style="left:705px;top:652.6px;letter-spacing:0.3px">thickness:110)</div>

</div></body></html>
